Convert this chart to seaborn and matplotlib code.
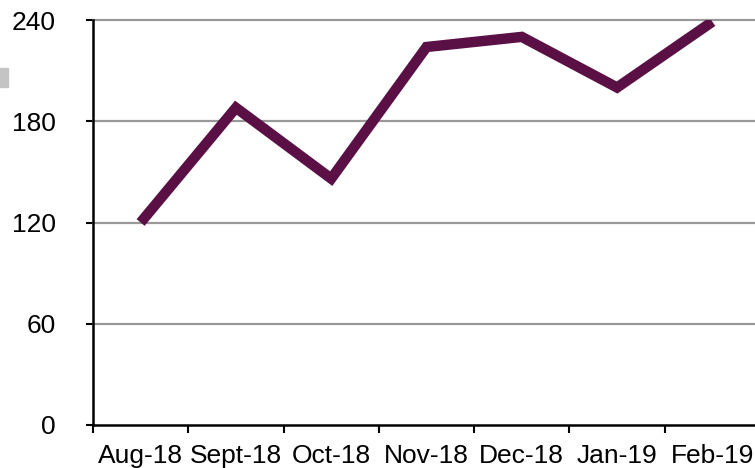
import numpy as np
import pandas as pd
import matplotlib.pyplot as plt
import seaborn as sns

# monthly values
months = ["Aug-18", "Sept-18", "Oct-18", "Nov-18", "Dec-18", "Jan-19", "Feb-19"]
values = [120, 188, 146, 224, 230, 200, 239]
yticks = [0, 60, 120, 180, 240]

df = pd.DataFrame({"month": months, "value": values})
df["pos"] = np.arange(len(months))

sns.set_style("white")
plt.rcParams['font.family'] = ['Liberation Sans', 'DejaVu Sans']
plt.rcParams['text.color'] = 'black'
plt.rcParams['xtick.color'] = 'black'
plt.rcParams['ytick.color'] = 'black'

fig = plt.figure(figsize=(7.55, 4.68), dpi=100)
ax = fig.add_axes([93 / 755, 43 / 468, 667 / 755, 405 / 468])

# grid lines
for y in yticks[1:]:
    ax.axhline(y, color="#999999", lw=1.6, zorder=1, clip_on=False)

sns.lineplot(data=df, x="pos", y="value", color="#5a1045", lw=7.5,
             solid_capstyle="butt", solid_joinstyle="miter", ax=ax, zorder=3)

ax.set_xlim(-0.5, len(months) - 0.5)
ax.set_ylim(0, 240)
ax.set_xticks(np.arange(len(months)) - 0.5)
ax.set_xticklabels([])
ax.set_xticks(np.arange(len(months)), minor=True)
ax.set_xticklabels(months, minor=True)
ax.set_yticks(yticks)
ax.set_yticklabels([str(v) for v in yticks])
ax.tick_params(axis="x", which="major", bottom=True, direction="out", length=5.5, width=1.5, color="black")
ax.tick_params(axis="x", which="minor", bottom=True, length=0, pad=14, labelsize=19, labelcolor="black")
ax.tick_params(axis="y", left=True, direction="out", length=5, width=1.5, color="black", pad=22,
               labelsize=19, labelcolor="black")
ax.set_xlabel("")
ax.set_ylabel("")

for side in ["top", "right"]:
    ax.spines[side].set_visible(False)
for side in ["left", "bottom"]:
    ax.spines[side].set_color("black")
    ax.spines[side].set_linewidth(1.8)

# small grey mark at the top-left edge
fig.patches.append(plt.Rectangle((0, 381 / 468), 8 / 755, 19 / 468, transform=fig.transFigure,
                                 color="#c4c4c4", zorder=0))

fig.savefig("out.png", dpi=100)
